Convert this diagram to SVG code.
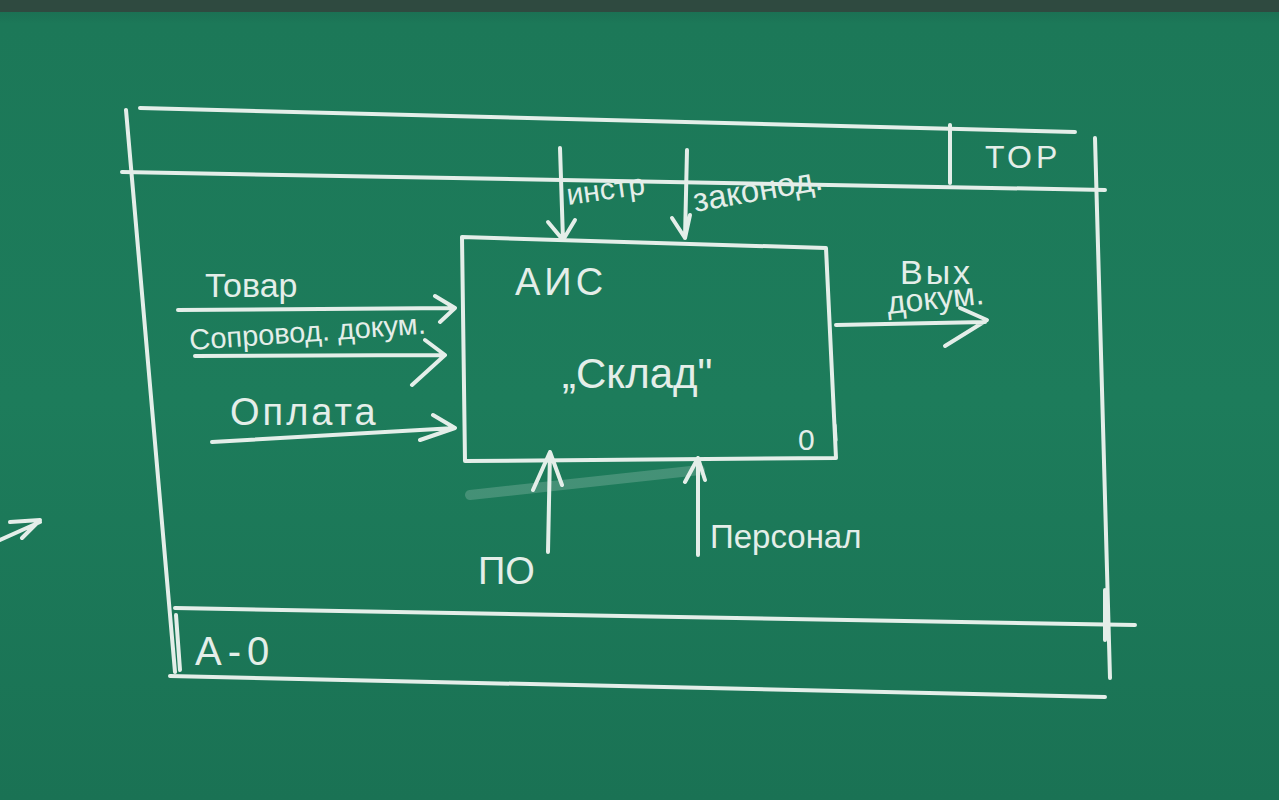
<svg xmlns="http://www.w3.org/2000/svg" width="1279" height="800" viewBox="0 0 1279 800">
<defs>
<linearGradient id="bg" x1="0" y1="0" x2="0" y2="1">
<stop offset="0" stop-color="#1a6a50"/>
<stop offset="0.03" stop-color="#1c7858"/>
<stop offset="0.5" stop-color="#1d7c5b"/>
<stop offset="1" stop-color="#1a7254"/>
</linearGradient>
<style>
.ch{fill:none;stroke:#e4eee9;stroke-width:4;stroke-linecap:round;stroke-linejoin:round}
.th{stroke-width:3.2}
.t{fill:#e4eee9;font-family:"Liberation Sans","DejaVu Sans",sans-serif}
</style>
</defs>
<rect width="1279" height="800" fill="url(#bg)"/>
<rect width="1279" height="12" fill="#2f4a40"/>

<g id="frame">
<path class="ch" d="M140 108 L1075 132"/>
<path class="ch" d="M122 172 L1105 190"/>
<path class="ch" d="M126 110 L175 672"/>
<path class="ch" d="M1095 138 L1110 678"/>
<path class="ch" d="M175 608 L1135 625"/>
<path class="ch" d="M170 676 L1105 697"/>
<path class="ch" d="M950 125 L950 183"/>
<path class="ch" d="M1105 590 L1105 640"/>
<path class="ch" d="M176 615 L180 670"/>
</g>

<g id="title-tor">
<text class="t" x="985" y="168" font-size="32" letter-spacing="4">ТОР</text>
</g>

<g id="node-a0-label">
<text class="t" x="195" y="665" font-size="40" letter-spacing="6">А-0</text>
</g>

<g id="node-ais-sklad">
<path class="ch" d="M462 237 L826 248 L836 458 L465 461 Z"/>
<path class="ch th" d="M835 425 L836 440"/>
<text class="t" x="515" y="295" font-size="38" letter-spacing="4">АИС</text>
<text class="t" x="562" y="388" font-size="42">„Склад"</text>
<text class="t" x="798" y="450" font-size="30">0</text>
</g>

<g id="connectors">
<path class="ch" d="M560 148 L563 240 M548 222 L563 240 L575 220"/>
<path class="ch" d="M687 150 L685 238 M672 218 L685 238 L690 215"/>
<path class="ch" d="M178 310 L455 308 M435 296 L455 308 L440 322"/>
<path class="ch" d="M195 356 L440 355 M425 340 L445 355 L412 385"/>
<path class="ch" d="M212 442 L455 428 M433 415 L455 428 L420 440"/>
<path class="ch" d="M836 325 L985 322 M960 308 L987 320 L945 346"/>
<path class="ch" d="M548 552 L550 452 M533 490 L550 452 L562 485"/>
<path class="ch" d="M698 555 L698 458 M685 482 L698 458 L705 480"/>
<path class="ch" d="M0 540 L40 522 M10 522 L40 520 L22 538"/>
<path d="M470 495 L700 470" stroke="#e4eee9" stroke-width="10" opacity="0.2" stroke-linecap="round" fill="none"/>
</g>

<g id="labels">
<text class="t" x="568" y="205" font-size="30" transform="rotate(-8 568 205)">инстр</text>
<text class="t" x="695" y="212" font-size="33" transform="rotate(-10 695 212)">законод.</text>
<text class="t" x="205" y="297" font-size="34">Товар</text>
<text class="t" x="190" y="350" font-size="29" transform="rotate(-4 190 350)">Сопровод. докум.</text>
<text class="t" x="230" y="425" font-size="38" letter-spacing="3">Оплата</text>
<text class="t" x="900" y="284" font-size="34" letter-spacing="3">Вых</text>
<text class="t" x="888" y="314" font-size="32" transform="rotate(-6 888 314)">докум.</text>
<text class="t" x="478" y="584" font-size="38">ПО</text>
<text class="t" x="710" y="548" font-size="33">Персонал</text>
</g>
</svg>
